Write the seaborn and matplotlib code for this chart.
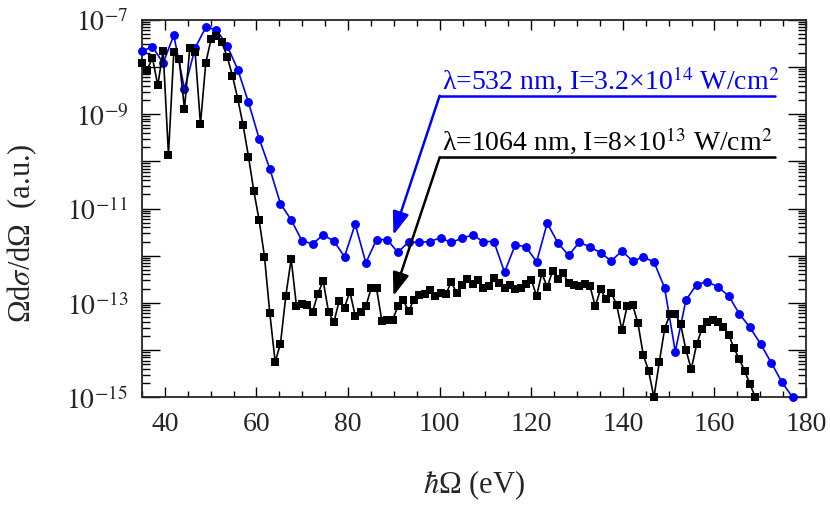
import numpy as np
import matplotlib
matplotlib.use("Agg")
import matplotlib.pyplot as plt
import seaborn as sns
from matplotlib.ticker import MultipleLocator, LogLocator, FuncFormatter, NullFormatter

# -----------------------------
# Data (harmonic spectra, log10 of signal)
# -----------------------------
photon_532 = 2.33     # eV, 532 nm
photon_1064 = 1.165   # eV, 1064 nm

orders_532 = np.arange(15, 77)
log_532 = [
    -7.67, -7.57, -7.92, -7.33, -8.47, -7.60, -7.16, -7.21, -7.55, -8.06,
    -8.75, -9.52, -10.16, -10.90, -11.24, -11.68, -11.75, -11.56, -11.69, -12.02,
    -11.33, -12.15, -11.66, -11.66, -11.93, -11.71, -11.72, -11.70, -11.62, -11.72,
    -11.63, -11.56, -11.70, -11.70, -12.35, -11.77, -11.81, -12.13, -11.31, -11.73,
    -11.99, -11.72, -11.81, -11.94, -12.11, -11.90, -12.11, -12.03, -12.13, -12.68,
    -14.03, -12.94, -12.61, -12.55, -12.66, -12.85, -13.23, -13.52, -13.87, -14.27,
    -14.68, -15.00,
]

orders_1064 = np.arange(30, 146)
log_1064 = [
    -7.92, -8.06, -7.81, -8.39, -7.66, -9.86, -7.69, -7.83, -8.89, -7.60,
    -7.69, -9.21, -7.91, -7.41, -7.34, -7.48, -7.78, -8.19, -8.68, -9.24,
    -9.90, -10.63, -11.25, -12.02, -13.22, -14.25, -13.86, -12.85, -12.07, -13.07,
    -13.02, -13.04, -13.19, -12.81, -12.53, -13.19, -13.41, -12.96, -13.10, -12.76,
    -13.27, -13.20, -13.07, -12.69, -12.69, -13.38, -13.37, -13.37, -13.07, -12.94,
    -13.17, -12.94, -12.83, -12.82, -12.72, -12.85, -12.80, -12.82, -12.55, -12.79,
    -12.61, -12.49, -12.60, -12.51, -12.69, -12.64, -12.47, -12.58, -12.69, -12.61,
    -12.71, -12.68, -12.60, -12.51, -12.85, -12.37, -12.67, -12.32, -12.49, -12.37,
    -12.58, -12.61, -12.65, -12.59, -12.64, -13.07, -12.71, -12.92, -12.78, -13.04,
    -13.57, -13.06, -13.04, -13.43, -14.10, -14.44, -15.00, -14.26, -13.55, -13.24,
    -13.24, -13.45, -14.00, -14.40, -13.88, -13.55, -13.41, -13.36, -13.40, -13.50,
    -13.67, -13.96, -14.19, -14.44, -14.72, -15.00,
]

energy_532 = orders_532 * photon_532
energy_1064 = orders_1064 * photon_1064
signal_532 = 10.0 ** np.array(log_532)
signal_1064 = 10.0 ** np.array(log_1064)

label_532 = "λ=532 nm, I=3.2×10$^{14}$ W/cm$^{2}$"
label_1064 = "λ=1064 nm, I=8×10$^{13}$ W/cm$^{2}$"

# annotation anchors (energy, log10 signal)
corner_532 = (100.0, -8.61)
corner_1064 = (100.0, -9.915)
arrow_tip = 89.9
tip_532 = -11.56
tip_1064 = -12.85
line_end = 173.3

# -----------------------------
# Style
# -----------------------------
sns.set_style("ticks")
plt.rcParams["font.family"] = ["Liberation Serif", "DejaVu Serif"]
plt.rcParams["mathtext.fontset"] = "stix"
plt.rcParams["axes.linewidth"] = 1.3

fig = plt.figure(figsize=(8.3, 5.06), dpi=100)
ax = fig.add_axes([0.1711, 0.2128, 0.8, 0.7463])

sns.lineplot(x=energy_532, y=signal_532, color="#0000ff", marker="o",
             markersize=6.4, markeredgewidth=0, linewidth=1.2,
             clip_on=False, zorder=3, ax=ax)
sns.lineplot(x=energy_1064, y=signal_1064, color="black", marker="s",
             markersize=5.4, markeredgewidth=0, linewidth=1.2,
             clip_on=False, zorder=4, ax=ax)

ax.set_yscale("log")
ax.set_xlim(35, 180)
ax.set_ylim(1e-15, 1e-7)

ax.xaxis.set_major_locator(MultipleLocator(20))
ax.xaxis.set_minor_locator(MultipleLocator(5))
ax.yaxis.set_major_locator(LogLocator(base=10, numticks=20))
ax.yaxis.set_minor_locator(LogLocator(base=10, subs=np.arange(2, 10), numticks=20))
ax.yaxis.set_minor_formatter(NullFormatter())


def odd_decades(v, pos):
    e = int(round(np.log10(v)))
    if e % 2 == 0:
        return ""
    return r"$10^{%d}$" % e


ax.yaxis.set_major_formatter(FuncFormatter(odd_decades))

ax.tick_params(which="both", direction="in", top=True, right=True,
               labelsize=20, color="black")
ax.tick_params(axis="x", which="major", length=7, width=1.0, pad=10)
ax.tick_params(axis="x", which="minor", length=4, width=1.0)
ax.tick_params(axis="y", which="major", length=13, width=1.0, pad=10)
ax.tick_params(axis="y", which="minor", length=6, width=1.0)

ax.set_xlabel(r"$\hbar$Ω (eV)", fontsize=22)
ax.set_ylabel(r"Ωd$\sigma$/dΩ  (a.u.)", fontsize=22)
ax.xaxis.set_label_coords(0.5, -0.185)
ax.yaxis.set_label_coords(-0.155, 0.438)

# -----------------------------
# Annotations
# -----------------------------
for corner, tip, color, text in [
    (corner_532, tip_532, "#0000ff", label_532),
    (corner_1064, tip_1064, "black", label_1064),
]:
    ax.plot([corner[0], line_end], [10 ** corner[1]] * 2, color=color, lw=1.8)
    ax.annotate("", xy=(arrow_tip, 10 ** tip), xytext=(corner[0], 10 ** corner[1]),
                arrowprops=dict(arrowstyle="-|>,head_length=14,head_width=5",
                                mutation_scale=1, color=color, lw=1.8,
                                shrinkA=0, shrinkB=0))
    ax.text(corner[0] + 0.5, 10 ** (corner[1] + 0.17), text, color=color,
            fontsize=20, ha="left", va="baseline")

fig.savefig("out.png", dpi=100)
